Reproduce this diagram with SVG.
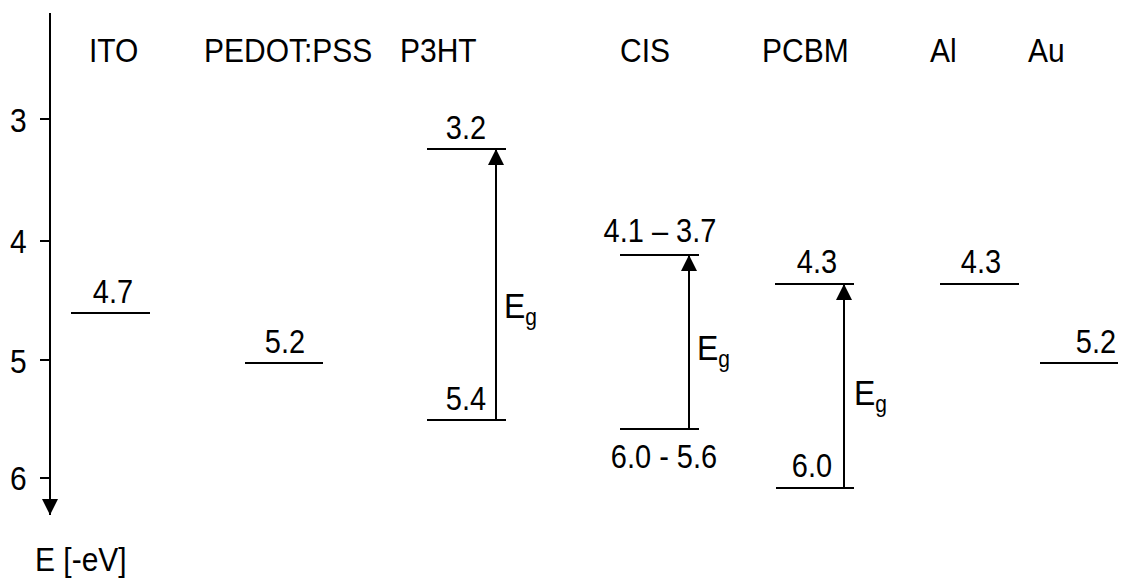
<svg xmlns="http://www.w3.org/2000/svg" width="1133" height="578" viewBox="0 0 1133 578">
<defs>
<marker id="ah" viewBox="0 0 16 16" refX="16" refY="8" markerWidth="16" markerHeight="16" markerUnits="userSpaceOnUse" orient="auto">
<path d="M0,0 L16,8 L0,16 Z" fill="#000"/>
</marker>
<style>
text{font-family:"Liberation Sans",Arial,sans-serif;fill:#000}
.h{font-size:30px}
.ax{font-size:30px}
.lv{font-size:29px}
.eg{font-size:32px}
.sub{font-size:21px}
line{stroke:#000;stroke-width:2}
</style>
</defs>
<rect width="1133" height="578" fill="#fff"/>
<g id="axis">
<line x1="50" y1="13" x2="50" y2="515" marker-end="url(#ah)"/>
<line x1="40" y1="119" x2="50" y2="119"/>
<line x1="40" y1="241" x2="50" y2="241"/>
<line x1="40" y1="360" x2="50" y2="360"/>
<line x1="40" y1="478" x2="50" y2="478"/>
<text class="ax" x="10" transform="translate(0,132) scale(1,1.12)">3</text>
<text class="ax" x="10" transform="translate(0,253) scale(1,1.12)">4</text>
<text class="ax" x="10" transform="translate(0,373) scale(1,1.12)">5</text>
<text class="ax" x="10" transform="translate(0,490) scale(1,1.12)">6</text>
<text class="ax" x="35" transform="translate(0,571) scale(1,1.12)">E [-eV]</text>
</g>
<g id="headers">
<text class="h" x="89" transform="translate(0,62) scale(1,1.12)">ITO</text>
<text class="h" x="204" transform="translate(0,62) scale(1,1.12)">PEDOT:PSS</text>
<text class="h" x="400" transform="translate(0,62) scale(1,1.12)">P3HT</text>
<text class="h" x="620" transform="translate(0,62) scale(1,1.12)">CIS</text>
<text class="h" x="762" transform="translate(0,62) scale(1,1.12)">PCBM</text>
<text class="h" x="930" transform="translate(0,62) scale(1,1.12)">Al</text>
<text class="h" x="1028" transform="translate(0,62) scale(1,1.12)">Au</text>
</g>
<g id="ITO">
<line x1="71" y1="313" x2="150" y2="313"/>
<text class="lv" x="113" text-anchor="middle" transform="translate(0,303) scale(1,1.12)">4.7</text>
</g>
<g id="PEDOT">
<line x1="245" y1="363" x2="323" y2="363"/>
<text class="lv" x="285" text-anchor="middle" transform="translate(0,353) scale(1,1.12)">5.2</text>
</g>
<g id="P3HT">
<line x1="427" y1="149" x2="506" y2="149"/>
<line x1="427" y1="420" x2="506" y2="420"/>
<text class="lv" x="466" text-anchor="middle" transform="translate(0,139) scale(1,1.12)">3.2</text>
<text class="lv" x="466" text-anchor="middle" transform="translate(0,410) scale(1,1.12)">5.4</text>
<text class="eg" x="504" transform="translate(0,318) scale(1,1.12)">E<tspan class="sub" dy="6">g</tspan></text>
</g>
<g id="CIS">
<line x1="620" y1="255" x2="699" y2="255"/>
<line x1="620" y1="429" x2="699" y2="429"/>
<text class="lv" x="660" text-anchor="middle" transform="translate(0,242) scale(1,1.12)">4.1 – 3.7</text>
<text class="lv" x="664" text-anchor="middle" transform="translate(0,468) scale(1,1.12)">6.0 - 5.6</text>
<text class="eg" x="697" transform="translate(0,360) scale(1,1.12)">E<tspan class="sub" dy="6">g</tspan></text>
</g>
<g id="PCBM">
<line x1="775" y1="284" x2="854" y2="284"/>
<line x1="776" y1="488" x2="854" y2="488"/>
<text class="lv" x="817" text-anchor="middle" transform="translate(0,273) scale(1,1.12)">4.3</text>
<text class="lv" x="812" text-anchor="middle" transform="translate(0,477) scale(1,1.12)">6.0</text>
<text class="eg" x="854" transform="translate(0,405) scale(1,1.12)">E<tspan class="sub" dy="6">g</tspan></text>
</g>
<g id="Al">
<line x1="940" y1="284" x2="1019" y2="284"/>
<text class="lv" x="981" text-anchor="middle" transform="translate(0,273) scale(1,1.12)">4.3</text>
</g>
<g id="Au">
<line x1="1040" y1="363" x2="1118" y2="363"/>
<text class="lv" x="1096" text-anchor="middle" transform="translate(0,353) scale(1,1.12)">5.2</text>
</g>
<g id="connectors">
<line x1="496" y1="420" x2="496" y2="149" marker-end="url(#ah)"/>
<line x1="689" y1="429" x2="689" y2="255" marker-end="url(#ah)"/>
<line x1="844" y1="488" x2="844" y2="284" marker-end="url(#ah)"/>
</g>
</svg>
